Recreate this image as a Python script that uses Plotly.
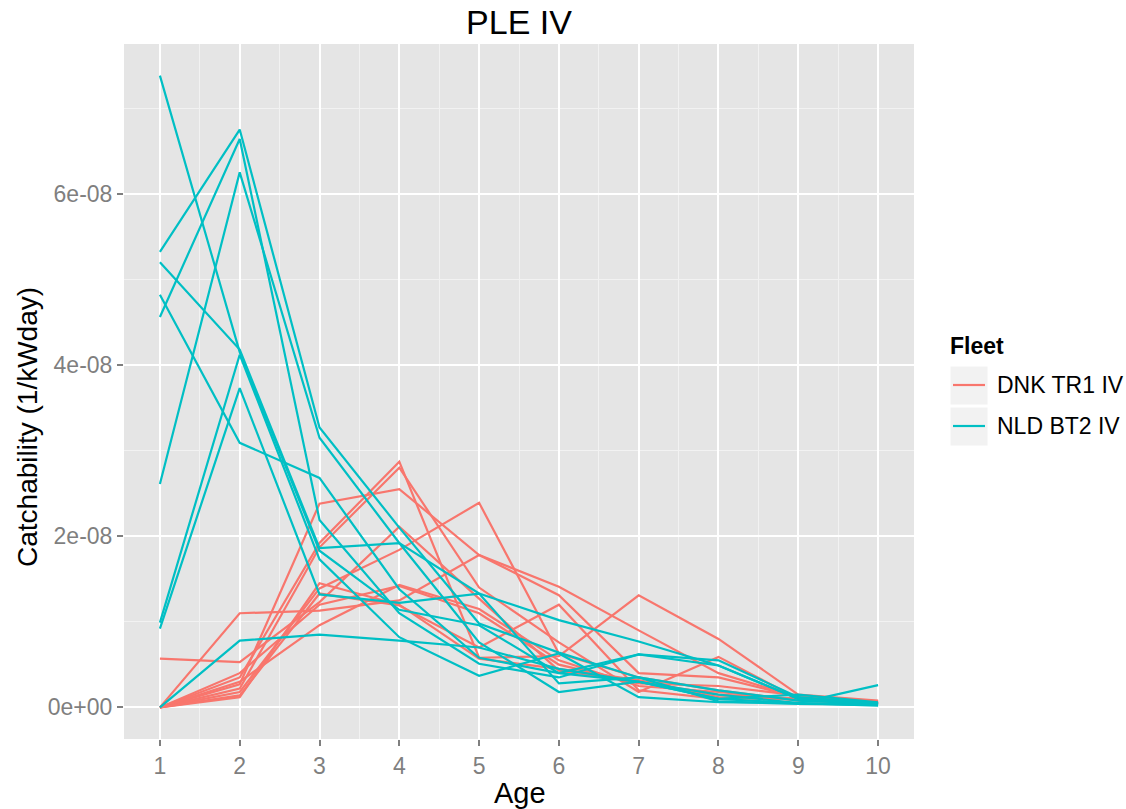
import plotly.graph_objects as go

# Catchability at age (units of 1e-08 per kW-day), one row per assessment year
ages = [1, 2, 3, 4, 5, 6, 7, 8, 9, 10]

dnk_tr1 = [
    [0.00, 0.27, 2.38, 2.55, 1.78, 1.41, 0.90, 0.40, 0.12, 0.07],
    [0.00, 0.35, 1.92, 2.87, 0.58, 0.60, 1.31, 0.80, 0.15, 0.08],
    [0.00, 0.22, 1.87, 2.80, 1.40, 0.76, 0.18, 0.59, 0.10, 0.05],
    [0.00, 0.18, 1.39, 1.84, 2.39, 0.63, 0.35, 0.20, 0.08, 0.05],
    [0.00, 1.10, 1.13, 1.25, 1.78, 1.31, 0.40, 0.35, 0.12, 0.06],
    [0.57, 0.53, 1.23, 2.11, 1.27, 0.43, 0.30, 0.15, 0.10, 0.04],
    [0.00, 0.30, 0.96, 1.43, 1.15, 0.55, 0.25, 0.18, 0.09, 0.06],
    [0.00, 0.14, 1.33, 1.19, 0.70, 1.20, 0.20, 0.10, 0.11, 0.05],
    [0.00, 0.40, 1.20, 1.42, 1.10, 0.50, 0.28, 0.25, 0.14, 0.07],
    [0.00, 0.12, 1.45, 1.20, 0.57, 0.45, 0.32, 0.12, 0.09, 0.04],
]

nld_bt2 = [
    [7.38, 4.15, 1.83, 1.14, 0.96, 0.40, 0.30, 0.15, 0.05, 0.03],
    [5.32, 6.75, 3.27, 2.10, 0.98, 0.64, 0.35, 0.20, 0.08, 0.04],
    [4.56, 6.64, 2.19, 1.10, 0.51, 0.35, 0.62, 0.49, 0.10, 0.05],
    [2.61, 6.25, 3.15, 1.92, 0.76, 0.18, 0.30, 0.10, 0.15, 0.06],
    [5.20, 4.18, 1.86, 1.92, 1.33, 1.02, 0.77, 0.49, 0.10, 0.04],
    [4.82, 3.09, 2.68, 1.38, 0.58, 0.40, 0.62, 0.55, 0.12, 0.05],
    [0.99, 4.12, 1.73, 0.82, 0.37, 0.63, 0.12, 0.06, 0.05, 0.26],
    [0.92, 3.73, 1.32, 1.22, 1.33, 0.28, 0.35, 0.07, 0.04, 0.03],
    [0.00, 0.78, 0.85, 0.78, 0.70, 0.45, 0.30, 0.10, 0.05, 0.02],
]

scale = 1e-8
fleets = ["DNK TR1 IV", "NLD BT2 IV"]
fleet_colors = ["#F8766D", "#00BFC4"]
y_tick_vals = [0, 2e-8, 4e-8, 6e-8]
y_tick_text = ["0e+00", "2e-08", "4e-08", "6e-08"]

FONT = "Liberation Sans, Arial, sans-serif"

fig = go.Figure()
for name, color, rows in zip(fleets, fleet_colors, [dnk_tr1, nld_bt2]):
    for row in rows:
        fig.add_trace(go.Scatter(
            x=ages, y=[v * scale for v in row], mode="lines",
            line=dict(color=color, width=2.2), name=name, showlegend=False,
            hoverinfo="x+y",
        ))

all_vals = [v * scale for rows in (dnk_tr1, nld_bt2) for r in rows for v in r]
ymin, ymax = min(all_vals), max(all_vals)
ypad = (ymax - ymin) * 0.05
xpad = (max(ages) - min(ages)) * 0.05

# plot panel in pixels (for the hand-built legend and titles)
W, H = 1126, 809
L, R, T, B = 124, 212, 44, 70
pw, ph = W - L - R, H - T - B


def px_x(x):
    return (x - L) / pw


def px_y(y):
    return (H - B - y) / ph


fig.update_layout(
    width=W, height=H,
    margin=dict(l=L, r=R, t=T, b=B, autoexpand=False),
    paper_bgcolor="white",
    plot_bgcolor="#E5E5E5",
    font=dict(family=FONT, color="black"),
    title=dict(text="PLE IV", x=(L + pw / 2) / W, xanchor="center",
               y=1 - 22 / H, yanchor="middle",
               font=dict(size=34, family=FONT, color="black")),
    xaxis=dict(
        range=[min(ages) - xpad, max(ages) + xpad],
        tickvals=ages, ticktext=[str(a) for a in ages],
        showgrid=True, gridcolor="white", gridwidth=2,
        zeroline=False, showline=False, automargin=False,
        ticks="outside", ticklen=6, tickwidth=1.5, tickcolor="#7F7F7F",
        tickfont=dict(size=23, color="#7F7F7F", family=FONT),
        minor=dict(tickvals=[a + 0.5 for a in ages[:-1]], showgrid=True,
                   gridcolor="#F2F2F2", gridwidth=1, ticks=""),
    ),
    yaxis=dict(
        range=[ymin - ypad, ymax + ypad],
        tickvals=y_tick_vals, ticktext=y_tick_text,
        showgrid=True, gridcolor="white", gridwidth=2,
        zeroline=False, showline=False, automargin=False,
        ticks="outside", ticklen=6, tickwidth=1.5, tickcolor="#7F7F7F",
        tickfont=dict(size=23, color="#7F7F7F", family=FONT),
        minor=dict(tickvals=[1e-8, 3e-8, 5e-8, 7e-8], showgrid=True,
                   gridcolor="#F2F2F2", gridwidth=1, ticks=""),
    ),
    showlegend=False,
)

# axis titles
fig.add_annotation(x=px_x(520), y=px_y(793), xref="paper", yref="paper",
                   text="Age", showarrow=False, xanchor="center",
                   yanchor="middle", font=dict(size=29, family=FONT, color="black"))
fig.add_annotation(x=px_x(27), y=px_y(427), xref="paper", yref="paper",
                   text="Catchability (1/kWday)", showarrow=False, textangle=-90,
                   xanchor="center", yanchor="middle",
                   font=dict(size=28, family=FONT, color="black"))

# legend: title, grey key boxes with a line sample, labels
fig.add_annotation(x=px_x(948), y=px_y(346), xref="paper", yref="paper",
                   text="<b>Fleet</b>", showarrow=False, xanchor="left",
                   yanchor="middle", font=dict(size=23, family=FONT, color="black"))
key_tops = [366, 407]
for (name, color), top in zip(zip(fleets, fleet_colors), key_tops):
    fig.add_shape(type="rect", xref="paper", yref="paper",
                  x0=px_x(950), x1=px_x(988), y0=px_y(top + 39), y1=px_y(top),
                  fillcolor="#F2F2F2", line=dict(color="white", width=1),
                  layer="below")
    mid = top + 19
    fig.add_shape(type="line", xref="paper", yref="paper",
                  x0=px_x(953), x1=px_x(985), y0=px_y(mid), y1=px_y(mid),
                  line=dict(color=color, width=2.2))
    fig.add_annotation(x=px_x(995), y=px_y(mid), xref="paper", yref="paper",
                       text=name, showarrow=False, xanchor="left",
                       yanchor="middle",
                       font=dict(size=23, family=FONT, color="black"))

fig.write_html("out.html")
